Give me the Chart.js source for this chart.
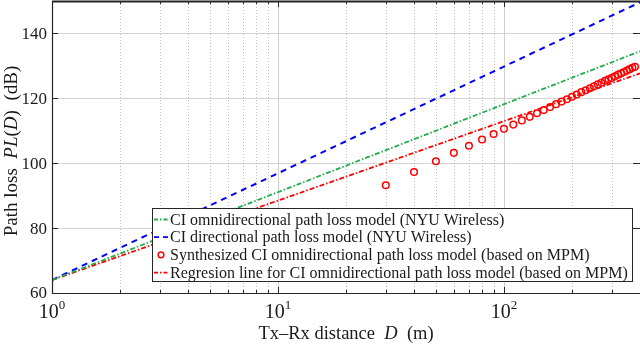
<!DOCTYPE html>
<html>
<head>
<meta charset="utf-8">
<script src="https://cdn.jsdelivr.net/npm/chart.js@4/dist/chart.umd.min.js"></script>
<style>
  html, body { margin: 0; padding: 0; background: #fff; }
</style>
</head>
<body>
<canvas id="graphique-perte" width="640" height="349"></canvas>
<script>
/* Path loss vs Tx-Rx distance, CI models */

const distancesModele = [1, 400];
const perteOmniNYU = [64.0, 134.5];
const perteDirNYU = [64.0, 149.6];
const perteRegression = [64.0, 127.7];

const distancesMPM = [30, 40, 50, 60, 70, 80, 90, 100, 110, 120, 130, 140, 150, 160, 170, 180, 190, 200,
  210, 220, 230, 240, 250, 260, 270, 280, 290, 300, 310, 320, 330, 340, 350, 360, 370, 380];
const perteMPM = [93.2, 97.3, 100.6, 103.2, 105.4, 107.3, 109.0, 110.6, 111.9, 113.2, 114.3, 115.4, 116.4, 117.3, 118.2, 119.0, 119.7, 120.5,
  121.2, 121.9, 122.5, 123.1, 123.7, 124.3, 124.8, 125.4, 125.9, 126.3, 126.8, 127.3, 127.7, 128.1, 128.6, 129.0, 129.4, 129.7];

const ticksY = [60, 80, 100, 120, 140];
const ticksX = [1, 2, 3, 4, 5, 6, 7, 8, 9, 10, 20, 30, 40, 50, 60, 70, 80, 90, 100, 200, 300, 400];
const decadesX = [1, 10, 100];
const exposantsX = ["0", "1", "2"];

const legendeTextes = [
  "CI omnidirectional path loss model (NYU Wireless)",
  "CI directional path loss model (NYU Wireless)",
  "Synthesized CI omnidirectional path loss model (based on MPM)",
  "Regresion line for CI omnidirectional path loss model (based on MPM)"
];

const POLICE = "'Liberation Serif', 'Times New Roman', serif";
const VERT = "#1fae4b";
const BLEU = "#0000ff";
const ROUGE = "#ff0000";

function points(xs, ys) {
  return xs.map(function(x, i) { return { x: x, y: ys[i] }; });
}

function texteMixte(ctx, morceaux, x, y, align) {
  let total = 0;
  morceaux.forEach(function(m) {
    ctx.font = (m.it ? "italic " : "") + m.t + "px " + POLICE;
    total += ctx.measureText(m.s).width;
  });
  let cx = align === "center" ? x - total / 2 : x;
  ctx.textAlign = "left";
  morceaux.forEach(function(m) {
    ctx.font = (m.it ? "italic " : "") + m.t + "px " + POLICE;
    ctx.fillText(m.s, cx, y + (m.dy || 0));
    cx += ctx.measureText(m.s).width;
  });
}

const decorPlugin = {
  id: "decor",
  beforeDatasetsDraw(chart) {
    const ctx = chart.ctx, a = chart.chartArea;
    const sx = chart.scales.x, sy = chart.scales.y;
    ctx.save();
    ctx.lineWidth = 1;
    ctx.strokeStyle = "#d4d4d4";
    ticksY.forEach(function(v) {
      const py = Math.round(sy.getPixelForValue(v)) + 0.5;
      ctx.beginPath(); ctx.moveTo(a.left, py); ctx.lineTo(a.right, py); ctx.stroke();
    });
    ticksX.forEach(function(v) {
      const px = Math.round(sx.getPixelForValue(v)) + 0.5;
      const majeur = decadesX.indexOf(v) >= 0;
      ctx.strokeStyle = majeur ? "#cfcfcf" : "#bdbdbd";
      ctx.setLineDash(majeur ? [] : [1, 2]);
      ctx.beginPath(); ctx.moveTo(px, a.top); ctx.lineTo(px, a.bottom); ctx.stroke();
    });
    ctx.restore();
  },
  afterDatasetsDraw(chart) {
    const ctx = chart.ctx, a = chart.chartArea;
    const sx = chart.scales.x, sy = chart.scales.y;
    ctx.save();
    ctx.setLineDash([]);
    ctx.strokeStyle = "#262626";
    ctx.lineWidth = 1.2;
    // axes
    ctx.beginPath();
    ctx.moveTo(a.left + 0.5, a.top); ctx.lineTo(a.left + 0.5, a.bottom + 0.5);
    ctx.lineTo(a.right, a.bottom + 0.5);
    ctx.stroke();
    ctx.lineWidth = 2;
    ctx.beginPath();
    ctx.moveTo(a.left, a.top + 0.5); ctx.lineTo(a.right, a.top + 0.5);
    ctx.stroke();
    // ticks
    ctx.lineWidth = 1;
    ticksX.forEach(function(v) {
      const px = Math.round(sx.getPixelForValue(v)) + 0.5;
      const l = decadesX.indexOf(v) >= 0 ? 6 : 3;
      ctx.beginPath();
      ctx.moveTo(px, a.bottom); ctx.lineTo(px, a.bottom - l);
      ctx.moveTo(px, a.top); ctx.lineTo(px, a.top + l);
      ctx.stroke();
    });
    ticksY.forEach(function(v) {
      const py = Math.round(sy.getPixelForValue(v)) + 0.5;
      ctx.beginPath();
      ctx.moveTo(a.left, py); ctx.lineTo(a.left + 6, py);
      ctx.moveTo(a.right, py); ctx.lineTo(a.right - 7, py);
      ctx.stroke();
    });
    // tick labels
    ctx.fillStyle = "#1a1a1a";
    ctx.textBaseline = "middle";
    ctx.textAlign = "right";
    ctx.font = "17px " + POLICE;
    ticksY.forEach(function(v) {
      ctx.fillText(String(v), a.left - 5, sy.getPixelForValue(v) + 1);
    });
    ctx.textBaseline = "alphabetic";
    decadesX.forEach(function(v, i) {
      const px = sx.getPixelForValue(v);
      texteMixte(ctx, [{ s: "10", t: 20 }, { s: exposantsX[i], t: 13, dy: -9 }], px, 318, "center");
    });
    // titles
    texteMixte(ctx, [{ s: "Tx\u2013Rx distance  ", t: 18.5 }, { s: "D", t: 18.5, it: true }, { s: "  (m)", t: 18.5 }],
      (a.left + a.right) / 2, 339, "center");
    ctx.save();
    ctx.translate(17, 151);
    ctx.rotate(-Math.PI / 2);
    texteMixte(ctx, [{ s: "Path loss  ", t: 19 }, { s: "PL", t: 19, it: true }, { s: "(", t: 19 },
      { s: "D", t: 19, it: true }, { s: ")  (dB)", t: 19 }], 0, 0, "center");
    ctx.restore();
    // legend
    const lx = 152.5, ly = 208.5, lw = 480, lh = 73;
    ctx.fillStyle = "#ffffff";
    ctx.fillRect(lx, ly, lw, lh);
    ctx.strokeStyle = "#262626";
    ctx.lineWidth = 1;
    ctx.strokeRect(lx, ly, lw, lh);
    const styles = [
      { c: VERT, d: [4, 2, 1.5, 2] },
      { c: BLEU, d: [5, 4] },
      { c: ROUGE, cercle: true },
      { c: ROUGE, d: [4, 2, 1.5, 2] }
    ];
    styles.forEach(function(st, i) {
      const ry = 219.5 + i * 17.7;
      ctx.strokeStyle = st.c;
      if (st.cercle) {
        ctx.setLineDash([]);
        ctx.lineWidth = 1.5;
        ctx.beginPath(); ctx.arc(161, ry, 2.8, 0, Math.PI * 2); ctx.stroke();
      } else {
        ctx.setLineDash(st.d);
        ctx.lineWidth = 1.8;
        ctx.beginPath(); ctx.moveTo(154, ry); ctx.lineTo(169, ry); ctx.stroke();
      }
      ctx.setLineDash([]);
      ctx.fillStyle = "#1a1a1a";
      ctx.textBaseline = "middle";
      ctx.textAlign = "left";
      ctx.font = "16px " + POLICE;
      ctx.fillText(legendeTextes[i], 170, ry + 1);
    });
    ctx.restore();
  }
};

new Chart(document.getElementById("graphique-perte").getContext("2d"), {
  type: "line",
  data: {
    datasets: [
      { label: legendeTextes[0], data: points(distancesModele, perteOmniNYU), borderColor: VERT,
        borderWidth: 1.8, borderDash: [5, 2, 1.5, 2], pointRadius: 0, fill: false },
      { label: legendeTextes[1], data: points(distancesModele, perteDirNYU), borderColor: BLEU,
        borderWidth: 2, borderDash: [6, 5], pointRadius: 0, fill: false },
      { label: legendeTextes[2], data: points(distancesMPM, perteMPM), borderColor: ROUGE,
        backgroundColor: "rgba(0,0,0,0)", showLine: false, pointRadius: 3.3, pointBorderWidth: 1.5 },
      { label: legendeTextes[3], data: points(distancesModele, perteRegression), borderColor: ROUGE,
        borderWidth: 1.8, borderDash: [5, 2, 1.5, 2], pointRadius: 0, fill: false }
    ]
  },
  options: {
    responsive: false,
    animation: false,
    layout: { autoPadding: false, padding: { left: 52, right: 0, top: 1, bottom: 56 } },
    plugins: { legend: { display: false }, tooltip: { enabled: false } },
    scales: {
      x: { type: "logarithmic", min: 1, max: 400, display: false },
      y: { type: "linear", min: 60, max: 150, display: false }
    }
  },
  plugins: [decorPlugin]
});
</script>
</body>
</html>
